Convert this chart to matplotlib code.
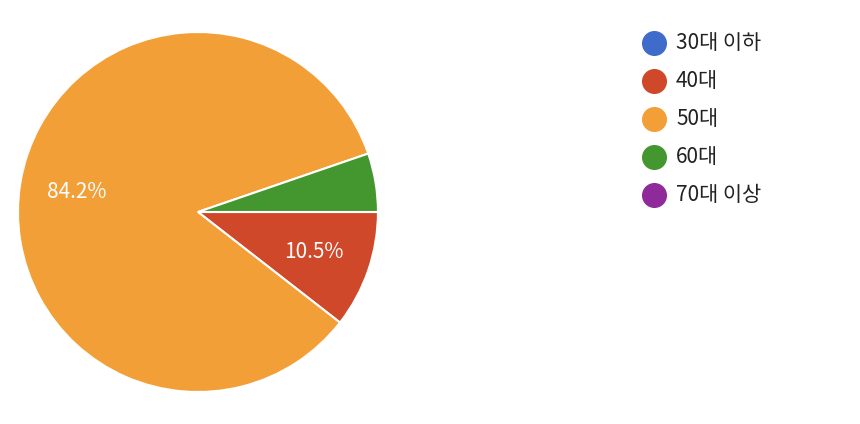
import matplotlib
matplotlib.use("Agg")
import matplotlib.pyplot as plt

plt.rcParams['font.family'] = ['Noto Sans CJK KR', 'DejaVu Sans']

# age group responses
labels = ["30대 이하", "40대", "50대", "60대", "70대 이상"]
counts = [0, 2, 16, 1, 0]
colors = ["#3f6bcb", "#d0482a", "#f39f38", "#44962f", "#8e2a99"]

fig = plt.figure(figsize=(8.6, 4.24), dpi=100)
ax = fig.add_axes([0.0209, 0.0755, 0.4186, 0.849])

# pie draws clockwise starting at 3 o'clock; skip the zero groups for wedges
order = [1, 2, 3]
vals = [counts[i] for i in order]
cols = [colors[i] for i in order]
total = sum(vals)

def pct(p):
    return f"{p:.1f}%" if p > 8 else ""

wedges, texts, autotexts = ax.pie(
    vals, colors=cols, startangle=0, counterclock=False, radius=1,
    autopct=pct, pctdistance=0.68,
    wedgeprops=dict(edgecolor="white", linewidth=1.5),
    textprops=dict(color="white", fontsize=15))
ax.set_xlim(-1, 1)
ax.set_ylim(-1, 1)
ax.set_aspect("equal")

# legend on the right
for k, (lab, c) in enumerate(zip(labels, colors)):
    y = 1 - (43 + 38 * k) / 424
    fig.add_artist(plt.Line2D([654 / 860], [y], marker="o", markersize=17,
                              color=c, linestyle="", transform=fig.transFigure))
    fig.text(676 / 860, y, lab, fontsize=15, color="#222222", va="center", ha="left")

fig.savefig("out.png", dpi=100)
